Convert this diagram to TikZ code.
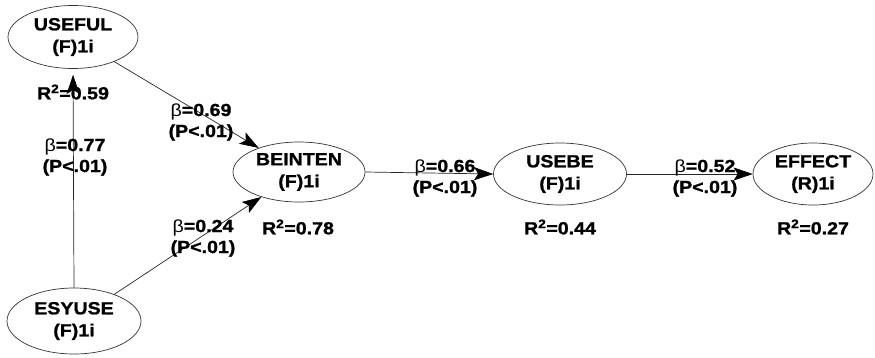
\documentclass[tikz,border=0pt]{standalone}
\usepackage{fontspec}
\setmainfont{Liberation Sans}
\newfontfamily\labfont[FakeStretch=1.12,FakeBold=1.2]{Liberation Sans Bold}
\newfontfamily\betfont[FakeStretch=1.12]{Liberation Sans}
\usetikzlibrary{shapes.geometric,arrows.meta}
\tikzset{
  lv/.style={ellipse, draw=black!80, line width=0.7pt, inner sep=0pt, align=center,
    font=\labfont\fontsize{17.5}{22}\selectfont},
  lab/.style={align=center, inner sep=0pt, font=\labfont\fontsize{17.5}{21}\selectfont},
  path/.style={draw=black!85, line width=0.7pt, -{Stealth[length=19pt,width=13pt,inset=4pt,black,line width=0.6pt]}, shorten >=0pt}
}
\newcommand{\bet}{{\betfont β}}
\begin{document}
\begin{tikzpicture}[x=1pt,y=-1pt]
\useasboundingbox (0,0) rectangle (875,357);
\node[lv, minimum height=63pt, minimum width=130pt] (useful) at (73,37) {USEFUL\\(F)1i};
\node[lv, minimum height=66pt, minimum width=134pt] (esyuse) at (74,321) {ESYUSE\\(F)1i};
\node[lv, minimum height=60pt, minimum width=132pt] (beinten) at (299,172) {BEINTEN\\(F)1i};
\node[lv, minimum height=62pt, minimum width=133pt] (usebe) at (560,174) {USEBE\\(F)1i};
\node[lv, minimum height=62pt, minimum width=120pt] (effect) at (813,174) {EFFECT\\(R)1i};

\draw[path, shorten >=6pt] (esyuse.north) -- (useful.south);
\draw[path] (useful) -- (beinten);
\draw[path] (esyuse) -- (beinten);
\draw[path] (beinten.east) -- (usebe.west);
\draw[path] (usebe.east) -- (effect.west);

\node[lab] (r1) at (73,92) {R\textsuperscript{2}=0.59};
\node[lab] (r2) at (298,227) {R\textsuperscript{2}=0.78};
\node[lab] (r3) at (560,227) {R\textsuperscript{2}=0.44};
\node[lab] (r4) at (813,227) {R\textsuperscript{2}=0.27};

\node[lab] (b1) at (75,157) {\bet=0.77\\(P<.01)};
\node[lab] (b2) at (201,122) {\bet=0.69\\(P<.01)};
\node[lab] (b3) at (203,238) {\bet=0.24\\(P<.01)};
\node[lab] (b4) at (445,178) {\bet=0.66\\(P<.01)};
\node[lab] (b5) at (705,178) {\bet=0.52\\(P<.01)};
\end{tikzpicture}
\end{document}
